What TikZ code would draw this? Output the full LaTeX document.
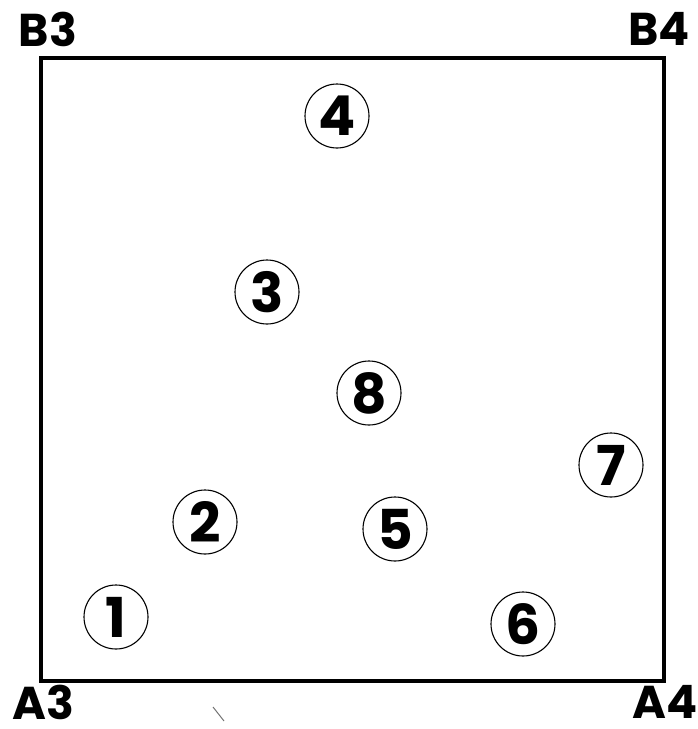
\documentclass[tikz,border=0pt]{standalone}
\usepackage{fontspec}
\newfontfamily\lblfont{Poppins}
\begin{document}
\begin{tikzpicture}[x=1pt,y=-1pt,
  corner/.style={font=\lblfont\bfseries\fontsize{46}{50}\selectfont, inner sep=0pt},
  num/.style={draw, circle, line width=1.1pt, minimum size=64pt, inner sep=0pt,
    font=\lblfont\bfseries\fontsize{55}{58}\selectfont}]
\useasboundingbox (0,0) rectangle (698,729);
% frame
\coordinate (sw) at (41,681);
\coordinate (ne) at (664,58);
\draw[line width=3.5pt] (sw) rectangle (ne);
% corner labels
\node[corner] (b3) at (48,29) {B3};
\node[corner] (b4) at (659,29) {B4};
\node[corner] (a3) at (43,702) {A3};
\node[corner] (a4) at (665,702) {A4};
% numbered circles
\node[num] (n1) at (116,617) {1};
\node[num] (n2) at (205,522) {2};
\node[num] (n3) at (267,292) {3};
\node[num] (n4) at (337,116) {4};
\node[num] (n5) at (395,529) {5};
\node[num] (n6) at (523,624) {6};
\node[num] (n7) at (611,465) {7};
\node[num] (n8) at (369,393) {8};
% stray mark
\draw[line width=1pt, black!55] (213,707) -- (224,721);
\end{tikzpicture}
\end{document}
